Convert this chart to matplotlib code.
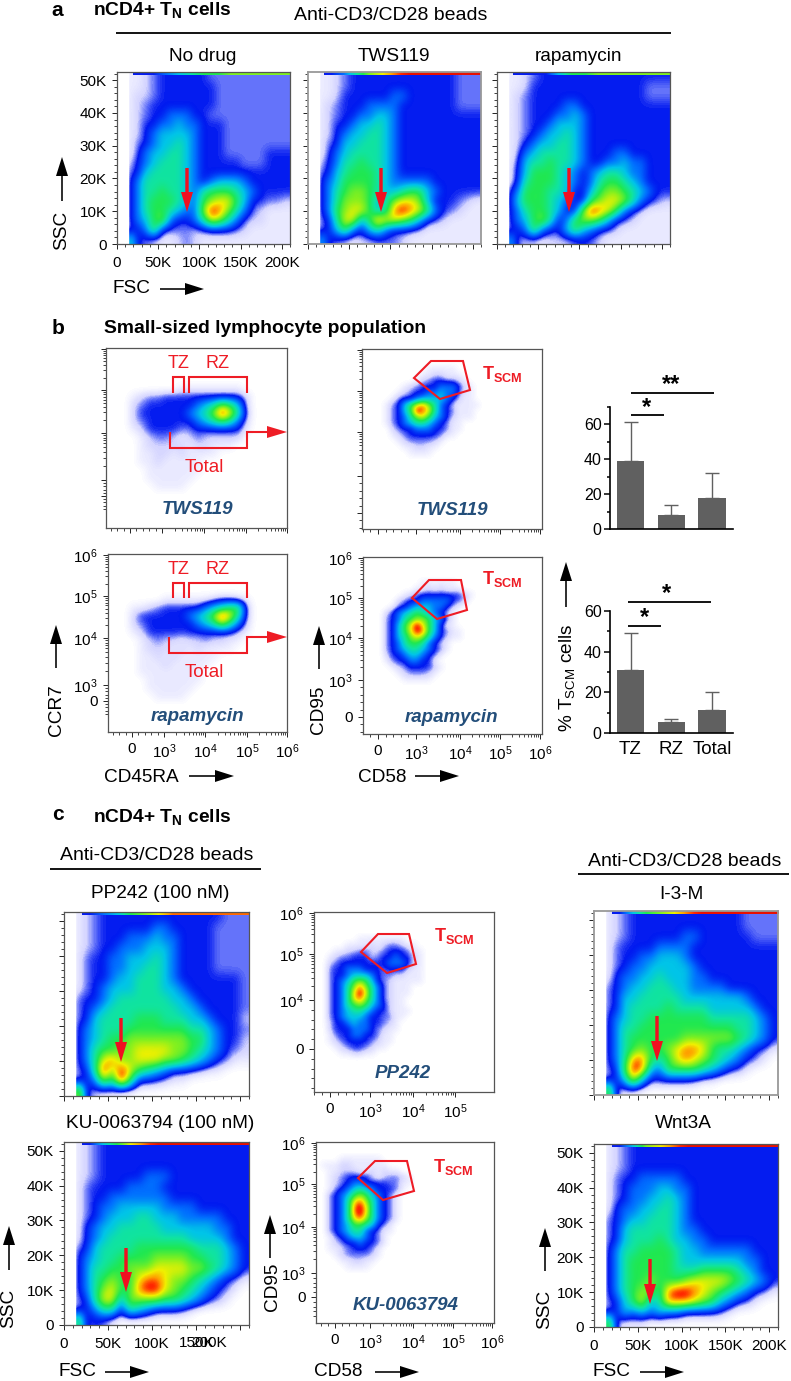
import matplotlib
matplotlib.use("Agg")
import matplotlib.pyplot as plt
import numpy as np
from matplotlib.colors import LinearSegmentedColormap
from matplotlib.patches import Polygon

W, H = 791, 1381
DARK = "#222222"
NAVY = "#234e7a"

# density grids, one character per cell, top row first
# 0-9 = colour level, "," "." "-" = sparse events (levels 0.25, 0.5, 0.75)
# FSC/SSC grids: 21 columns of 10K FSC, 18 rows over 0-52.5K SSC
NO_DRUG = [
    "0,,.-111111----------", "0,,.-1111111---------", "0,..-1111111---------",
    "0,.-11111111---------", "0,.-1122211----------", "0,.1122322111--------",
    "0,.1233332111--------", "0,-1233432111--------", "0,-2334432111-----111",
    "0.1234443211111---111", "0-1344443211111111111", "0-2444443212333211111",
    "0-2445443245554321111", "0-2455543256775311--.", "0-24554322698642-.,,,",
    "0-2356211247642-..,,,", "0-1251---.-111-.,,,,,", "041-.,,.-.,,,,,,,,,,,",
]
TWS119 = [
    "0,,.-1111111111111---", "0,,.-1111111111111---", "0,,.11111122111111---",
    "0,.-11122221111111---", "0,.-11223321111111111", "0,.112334321111111111",
    "0,.123344321111111111", "0,-133444321111111111", "0,-234444321111111111",
    "0.1244544321111111111", "0-1345554321111111111", "0-2355554322222111111",
    "0-2456654334553211111", "0-2466653467763111-.,", "0-256775348987521-.,,",
    "0-1477358776531-.,,,,", "0-1352134211-.,,,,,,,", "031-.,..---.,,,,,,,,,",
]
RAPAMYCIN = [
    "0,,.-1111111111111111", "0,,.11111111111111---", "0,.-11111111111111---",
    "0,.-11112211111111111", "0,.-11122321111111111", "0,.-11233321111111111",
    "0,.-12334321111111111", "0,.123344321111111111", "0,.234444321112211111",
    "0,-344544321122322111", "0,1355543212344322111", "0,1455543212455432111",
    "0-2555443113566543211", "0-355543211567764 21-.".replace(" ", ""), "0-245543116987521.,,,",
    "0-2356412566531-.,,,,", "0-12521135321-.,,,,,,", "03-..,...-1-.,,,,,,,,",
]
PP242 = [
    "0,.-11111111111111---", "0,.-1111112211111----", "0,.-1112223221111----",
    "0,.-1122233321111----", "0,-11223334321111----", "0,-11223344321111----",
    "0,-11233444321111111-", "0,-12333444332111111-", "0-112344444433211111-",
    "0-123444444443321111-", "0-134444555444332111.", "0-234445555555443211-",
    "0-234556666666553211.", "0-24556677776654321-.", "0-2478667776654321-,,",
    "0-149697543211-.,,000", "0-12649511-.,,0000000", "081.,,000000000000000",
]
KU0063794 = [
    "0,.-11111111111111111", "0,.-11111111111111111", "0,.-11111111111111111",
    "0,.-11111222111111111", "0,-111122221111111111", "0,-112222222111111111",
    "0,-122333332222111111", "0,-123334433322222111", "0,1233444443333332211",
    "0,1234444444443333211", "0-1344445555555444321", "0-2344555566665544321",
    "0-2445566677776654321", "0-24565578876654321-,", "0-2467558997654321-,0",
    "0-147736666554321-,00", "0-12441432111-,000000", "06-1-,000000000000000",
]
I3M = [
    "0,.-1111111111111----", "0,.-1111111111111----", "0,.-11111122111111---",
    "0,-111122221111111111", "0,-112233321111111111", "0,-122333332111111111",
    "0,1223343332211111111", "0-1233444332222111111", "0-1334444433333332111",
    "0-1344445444433333211", "0-2344555555544444321", "0-2445555555555544321",
    "0-2455555566666654321", "0-24565567887544321-,", "0-2488545787654321-,0",
    "0-15983255554321-,000", "0-1373-1111-,,0000000", "07-,,0000000000000000",
]
WNT3A = [
    "0,.-11111111111111111", "0,.-11111111111111111", "0,.-11111111111111111",
    "0,-112222211111111111", "0,-122233221111111111", "0,-122334321111111111",
    "0,1223344321111111111", "0-1233444321111111111", "0-1344444322111111111",
    "0-1344454332211111111", "0-2445555433222222111", "0-2455555433333332211",
    "0-2455555444555543211", "0-2455655567777654321", "0-2456648998765 4321-,".replace(" ", ""),
    "0-135734888765321-,00", "0-132323221111-,00000", "07-,,,000000000000000",
]

# colour levels of the saturated strip along the top edge of each FSC/SSC plot
TOP_NO_DRUG = [1, 1, 2, 3, 4, 5, 5, 6, 6, 6, 6, 6]
TOP_TWS119 = [1, 2, 4, 6, 7, 8, 9, 9, 9, 9, 9, 9]
TOP_RAPAMYCIN = [1, 1, 1, 3, 5, 5, 6, 6, 6, 6, 6, 6]
TOP_PP242 = [1, 2, 3, 5, 6, 7, 8, 8, 8, 8, 8, 8]
TOP_KU = [1, 3, 5, 7, 8, 9, 9, 9, 9, 9, 9, 9]
TOP_I3M = [1, 3, 5, 6, 7, 8, 9, 9, 9, 9, 9, 9]
TOP_WNT3A = [1, 3, 6, 7, 8, 9, 9, 9, 9, 9, 9, 9]

# CD45RA/CCR7 grids, 15 columns
CCR7_TWS119 = [
    "000000,,,,,,,,0", ",.--1111111111.", ".-111111234653.", ".1111112346974-",
    ".-111111234542.", ",.1111--111111,", "0,.--.,.-.....0", "0,.....,..,,,00",
    "0,,..,.,,,,0000", "0,,.,,,,,000000", "00,,,,,,,000000", "00,,,,,,0000000",
    "000,,,,00000000",
]
CCR7_RAPAMYCIN = [
    "0000,,,,,,.--.,", ",,.-1111123455-", ".1111112346974-", ".-111111234642.",
    ",.11111111111.,", "0,.-..,..-..,,0", "0,...,.,.,,,,00", "0,,.,.,,,,,0000",
    "0,,,.,,,,,00000", "0,,,,,,,,000000", "00,,,,,,,000000", "00,,,,,,0000000",
    "000,,,,00000000",
]

# CD58/CD95 grids, 16 columns
CD58_TWS119 = [
    "0000000,,,,,0000", "000000,,..,,,000", "00000,.-11--.,00", "000,.-1112221.,0",
    "00,.-1122322-,,0", "0,-112333321.,,0", ",-135786421.,,,,", ",-135987421-,,,0",
    ",-124675321.,,,0", ",-12344321-,,000", "0.-1122211-,,000", "0,.-11111-,,0000",
    "00,.----.,000000", "000,,..,,0000000", "0000,,,,00000000",
]
CD58_RAPAMYCIN = [
    "000000,,,,,,0000", "00000,,.,.,,,000", "000,.-1111111.,0", "00.-11222221-.00",
    "0,-12333221.,000", ".123454321.,0000", "-124566532-,0000", "-135797531,,0000",
    "-135798531-,,000", "-134676421.,,000", "-12455421.,00000", "-12344321-,00000",
    ".1123321-,000000", ",-112211,0000000", "0,.-1111.,000000", "00,.---.,0000000",
    "000,,,,,00000000",
]
CD58_PP242 = [
    "00000,,,,,,,,000", "000,,,,.,.--.,,0", "0,,..--..-111-,,", ",.--111.-11211.,",
    ".-111111112221.,", "-11222111-111.,,", "-11233321--..,,,", "-12356531-.,,,,,",
    "-12468642-.,,,00", "-12479742-.,,,00", "-12478642-.,,000", "-124565321.,,000",
    "-123443211.,,,00", "-12333211--,,000", ".11232211-.,0000", ".1112221-.,,0000",
    ",-112211-,,00000", ",.-1111-.,,00000", "0,.-11-.,,000000", "00,,..,,00000000",
]
CD58_KU = [
    "000,,,,,,,000000", ",,,..,,,,,,00000", "0,,...,,.,.,,000", "0,.-1111.,.--.,0",
    "0,.-1221111--,,0", "0,-123432111-,00", "0-123565321-,000", "0-124786421-,000",
    "0-124897421-,000", "0-124897421-,000", "0-124786421-,000", "0-12355431-,0000",
    "0-1234421-,,0000", "0,-123321-,00000", "0,.-11211-,00000", "0,,.-111-,000000",
    "00,.----.,000000", "000,,..,,0000000", "0000,,,,00000000",
]

# bar charts, % TSCM cells
GROUPS = ["TZ", "RZ", "Total"]
TWS119_MEAN = [39, 8, 17.5]
TWS119_SD = [22.5, 6, 14.5]
RAPAMYCIN_MEAN = [31, 5.5, 11.5]
RAPAMYCIN_SD = [18, 1.5, 8.5]

FSC_TICKS = [0, 50, 100, 150, 200]
FSC_LABELS = ["0", "50K", "100K", "150K", "200K"]
SSC_TICKS = [0, 10, 20, 30, 40, 50]
SSC_LABELS = ["0", "10K", "20K", "30K", "40K", "50K"]
BIEX_LABELS = ["0", r"$\mathregular{10^3}$", r"$\mathregular{10^4}$",
               r"$\mathregular{10^5}$", r"$\mathregular{10^6}$"]

LEVELS = [0, 0.5, 0.75, 1, 2, 3, 4, 5, 6, 7, 7.7, 8.4, 9]
COLOURS = ["#ffffff", "#d4d4ff", "#6070fa", "#0018f0", "#0070ff", "#00c4e8", "#10e4a0",
           "#20e850", "#80f020", "#f0f000", "#ffa000", "#ff2800", "#e81000"]
DENSITY = LinearSegmentedColormap.from_list("density", [(v / 9, c) for v, c in zip(LEVELS, COLOURS)])
SPARSE = {",": 0.25, ".": 0.5, "-": 0.75}


def parse_grid(rows):
    width = max(len(r) for r in rows)
    return np.array([[SPARSE[c] if c in SPARSE else float(c) for c in r.ljust(width, "0")] for r in rows])


def px_axes(fig, x0, y0, x1, y1):
    return fig.add_axes([x0 / W, 1 - y1 / H, (x1 - x0) / W, (y1 - y0) / H])


def style_box(ax, edge="#555555", lw=0.9):
    for spine in ax.spines.values():
        spine.set_color(edge)
        spine.set_linewidth(lw)
    ax.tick_params(which="major", length=3.8, width=0.7, color=DARK, labelsize=11, pad=3.5)
    ax.tick_params(which="minor", length=2.2, width=0.6, color=DARK)


def fsc_panel(fig, box, grid, top, labels_x=False, labels_y=False, edge="#555555", lw=0.9):
    ax = px_axes(fig, *box)
    ax.imshow(parse_grid(grid), extent=(0, 210, 0, 52.5), origin="upper", cmap=DENSITY, vmin=0, vmax=9,
              interpolation="bicubic", interpolation_stage="data", aspect="auto")
    ax.imshow([top], extent=(20, 210, 51.6, 52.5), origin="upper", cmap=DENSITY, vmin=0, vmax=9,
              interpolation="bilinear", aspect="auto")
    ax.axvspan(0, 13, color="white", zorder=2)
    ax.set_xlim(0, 210)
    ax.set_ylim(0, 52.5)
    ax.set_xticks(FSC_TICKS, FSC_LABELS if labels_x else [""] * 5)
    ax.set_yticks(SSC_TICKS, SSC_LABELS if labels_y else [""] * 6)
    ax.set_xticks(np.arange(0, 211, 10), minor=True)
    ax.set_yticks(np.arange(0, 52.5, 2), minor=True)
    style_box(ax, edge, lw)
    ax.tick_params(axis="x", pad=5)
    return ax


def biex_minors(ticks, lim):
    # ticks are the pixel positions of 0, 10^3, 10^4, 10^5, 10^6
    out = [ticks[0] + k * (ticks[1] - ticks[0]) / 5 for k in range(-4, 6)]
    for a, b in zip(ticks[1:], ticks[2:]):
        out += [a + np.log10(k) * (b - a) for k in range(2, 10)]
    lo, hi = min(lim), max(lim)
    return [p for p in out if lo <= p <= hi]


def biex_panel(fig, box, grid, extent, xticks, yticks, xlabels=None, ylabels=None):
    ax = px_axes(fig, *box)
    cells = parse_grid(grid)
    # one empty cell all round, so the density fades out before the image edge
    dx = (extent[1] - extent[0]) / cells.shape[1]
    dy = (extent[2] - extent[3]) / cells.shape[0]
    ax.imshow(np.pad(cells, 1), extent=(extent[0] - dx, extent[1] + dx, extent[2] + dy, extent[3] - dy),
              origin="upper", cmap=DENSITY, vmin=0, vmax=9,
              interpolation="bicubic", interpolation_stage="data", aspect="auto")
    ax.set_xlim(box[0], box[2])
    ax.set_ylim(box[3], box[1])
    ax.set_xticks(xticks, xlabels if xlabels else [""] * len(xticks))
    ax.set_yticks(yticks, ylabels if ylabels else [""] * len(yticks))
    ax.set_xticks(biex_minors(xticks, (box[0], box[2])), minor=True)
    ax.set_yticks(biex_minors(yticks, (box[1], box[3])), minor=True)
    style_box(ax)
    return ax


def bar_panel(fig, box, means, sds, ymax, major, minor, labels=None):
    ax = px_axes(fig, *box)
    x = np.arange(len(means))
    ax.bar(x, means, width=0.675, color="#606060")
    ax.errorbar(x, means, yerr=[np.zeros(len(sds)), sds], fmt="none", ecolor="#606060", elinewidth=1,
                capsize=4.7, capthick=1)
    ax.set_xlim(-0.503, 2.515)
    ax.set_ylim(0, ymax)
    ax.set_yticks(major)
    ax.set_yticks(minor, minor=True)
    if labels:
        ax.set_xticks(x, labels)
        ax.tick_params(axis="x", length=0, labelsize=13.5, pad=6)
    else:
        ax.set_xticks([])
    ax.tick_params(axis="y", which="major", length=4, width=1.1, labelsize=11.5, pad=2)
    ax.tick_params(axis="y", which="minor", length=2.5, width=1.1)
    ax.spines[["top", "right"]].set_visible(False)
    ax.spines[["left", "bottom"]].set_linewidth(1.2)
    return ax


def main():
    plt.rcParams["font.family"] = ["Liberation Sans", "DejaVu Sans"]
    plt.rcParams["mathtext.fontset"] = "custom"
    plt.rcParams["mathtext.rm"] = "Liberation Sans"
    plt.rcParams["mathtext.bf"] = "Liberation Sans:bold"
    plt.rcParams["mathtext.it"] = "Liberation Sans:italic"

    fig = plt.figure(figsize=(W / 100, H / 100), dpi=100)

    # panel a
    fsc_panel(fig, (117, 72, 290, 244), NO_DRUG, TOP_NO_DRUG, labels_x=True, labels_y=True)
    fsc_panel(fig, (308, 72, 481, 244), TWS119, TOP_TWS119, edge="#999999", lw=1.3)
    fsc_panel(fig, (497, 72, 670, 244), RAPAMYCIN, TOP_RAPAMYCIN)

    # panel b, dot plots
    biex_panel(fig, (106, 348, 287, 528), CCR7_TWS119, (130, 250, 490, 386),
               [130, 162, 204, 246, 287], [496, 480, 433, 390, 349])
    biex_panel(fig, (108, 554, 287, 732), CCR7_RAPAMYCIN, (130, 250, 700, 596),
               [132, 164, 205, 247, 287], [701, 685, 638, 596, 555], BIEX_LABELS, BIEX_LABELS)
    biex_panel(fig, (362, 349, 542, 529), CD58_TWS119, (384, 480, 456, 366),
               [378, 416, 460, 500, 540], [513, 476, 432, 391, 350])
    biex_panel(fig, (363, 557, 542, 734), CD58_RAPAMYCIN, (384, 480, 682, 580),
               [378, 416, 460, 500, 540], [717, 680, 638, 598, 558], BIEX_LABELS, BIEX_LABELS)

    # panel b, bars
    bar_panel(fig, (610, 407, 733, 529), TWS119_MEAN, TWS119_SD, 70, [0, 20, 40, 60], [10, 30, 50, 70])
    bar_panel(fig, (610, 611, 733, 733), RAPAMYCIN_MEAN, RAPAMYCIN_SD, 60, [0, 20, 40, 60], [10, 30, 50], GROUPS)

    # panel c
    fsc_panel(fig, (64, 912, 249, 1096), PP242, TOP_PP242)
    ax = fsc_panel(fig, (64, 1142, 249, 1325), KU0063794, TOP_KU, labels_y=True)
    ax.set_xticks(FSC_TICKS, ["0", "50K", "100K", "", ""])
    fsc_panel(fig, (594, 911, 778, 1095), I3M, TOP_I3M, edge="#999999", lw=1.3)
    fsc_panel(fig, (594, 1144, 778, 1327), WNT3A, TOP_WNT3A, labels_x=True, labels_y=True)
    biex_panel(fig, (314, 912, 494, 1092), CD58_PP242, (327, 423, 1056, 936),
               [330, 370, 413, 455], [1049, 1000, 954, 913], BIEX_LABELS[:4], BIEX_LABELS[:1] + BIEX_LABELS[2:])
    biex_panel(fig, (316, 1142, 494, 1323), CD58_KU, (321, 417, 1270, 1156),
               [335, 370, 413, 453, 492], [1297, 1273, 1227, 1184, 1143], BIEX_LABELS, BIEX_LABELS)

    # everything else sits on one overlay in image pixels
    ov = fig.add_axes([0, 0, 1, 1], zorder=10)
    ov.set_xlim(0, W)
    ov.set_ylim(H, 0)
    ov.axis("off")

    def text(x, y, s, size=13.7, ha="center", **kw):
        ov.text(x, y, s, fontsize=size, ha=ha, va="center", **kw)

    def rule(x0, x1, y, lw=1.3):
        ov.plot([x0, x1], [y, y], color="black", lw=lw, solid_capstyle="butt")

    def black_arrow(x0, y0, x1, y1):
        ov.arrow(x0, y0, x1 - x0, y1 - y0, width=1.6, head_width=12, head_length=19,
                 length_includes_head=True, color="black", lw=0)

    def red_arrow(x, y0, y1):
        ov.arrow(x, y0, 0, y1 - y0, width=3.4, head_width=12, head_length=20,
                 length_includes_head=True, color="#f01020", lw=0)

    def gate(points, closed=False, lw=1.5):
        ov.add_patch(Polygon(points, closed=closed, fill=False, edgecolor="#ee1c25", lw=lw, joinstyle="miter"))

    def tz_rz(top, stem, total_y, total_stem, left):
        gate([(173, stem), (173, top), (184, top), (184, stem)])
        gate([(189, stem), (189, top), (247, top), (247, stem)])
        gate([(left, total_stem), (left, total_y), (247, total_y), (247, total_stem), (268, total_stem)])
        ov.arrow(267, total_stem, 20, 0, width=0.1, head_width=12, head_length=20,
                 length_includes_head=True, color="#ee1c25", lw=0)
        text(179, top - 14, "TZ", 13, color="#ee1c25")
        text(218, top - 14, "RZ", 13, color="#ee1c25")
        text(204, total_y + 19, "Total", 13.5, color="#ee1c25")

    def tscm(x, y):
        text(x, y, r"$\mathbf{T_{SCM}}$", 13, ha="left", color="#ee1c25")

    for x, y, s in [(57, 10, "a"), (58, 328, "b"), (58, 814, "c")]:
        text(x, y, s, 15, fontweight="bold")
    text(93, 10, r"nCD4+ $\mathbf{T_N}$ cells", 13.9, ha="left", fontweight="bold")
    text(93, 817, r"nCD4+ $\mathbf{T_N}$ cells", 13.9, ha="left", fontweight="bold")
    text(104, 328, "Small-sized lymphocyte population", 13.9, ha="left", fontweight="bold")

    text(391, 15, "Anti-CD3/CD28 beads", 14)
    rule(116, 671, 33)
    text(203, 56, "No drug")
    text(394, 56, "TWS119")
    text(579, 56, "rapamycin")
    text(157, 855, "Anti-CD3/CD28 beads", 14)
    rule(50, 261, 869)
    text(160, 893, "PP242 (100 nM)")
    text(160, 1123, "KU-0063794 (100 nM)")
    text(685, 861, "Anti-CD3/CD28 beads", 14)
    rule(578, 789, 874)
    text(681, 894, "I-3-M")
    text(683, 1124, "Wnt3A")

    # axis names with their arrows
    text(62, 230, "SSC", rotation=90)
    black_arrow(62, 201, 62, 157)
    text(131, 288, "FSC")
    black_arrow(160, 289, 204, 289)
    text(56, 710, "CCR7", rotation=90)
    black_arrow(56, 668, 56, 625)
    text(141, 777, "CD45RA")
    black_arrow(189, 776, 234, 776)
    text(319, 710, "CD95", rotation=90)
    black_arrow(319, 669, 319, 626)
    text(382, 777, "CD58")
    black_arrow(415, 776, 459, 776)
    text(567, 678, r"% T$\mathregular{_{SCM}}$ cells", rotation=90)
    black_arrow(566, 607, 566, 562)
    text(9, 1308, "SSC", rotation=90)
    black_arrow(9, 1270, 9, 1226)
    text(77, 1372, "FSC")
    black_arrow(105, 1372, 149, 1372)
    text(272, 1287, "CD95", rotation=90)
    black_arrow(270, 1258, 270, 1215)
    text(338, 1372, "CD58")
    black_arrow(375, 1372, 419, 1372)
    text(545, 1309, "SSC", rotation=90)
    black_arrow(545, 1271, 545, 1228)
    text(612, 1372, "FSC")
    black_arrow(640, 1372, 684, 1372)

    # the overlapped 150K / 200K labels of the KU-0063794 plot
    text(197, 1343, "150K", 11)
    text(209, 1343, "200K", 11)

    for x, y0, y1 in [(187, 168, 212), (381, 168, 212), (569, 168, 212), (121, 1018, 1062),
                      (126, 1248, 1292), (657, 1016, 1061), (650, 1259, 1304)]:
        red_arrow(x, y0, y1)

    tz_rz(377, 393, 448, 432, 170)
    tz_rz(583, 598, 653, 637, 169)
    gate([(414, 378), (431, 361), (463, 361), (470, 390), (440, 399)], closed=True)
    gate([(412, 598), (429, 580), (461, 580), (467, 610), (437, 619)], closed=True)
    gate([(361, 952), (378, 934), (409, 934), (416, 964), (387, 973)], closed=True)
    gate([(358, 1178), (375, 1161), (407, 1161), (414, 1191), (383, 1200)], closed=True)
    tscm(482, 374)
    tscm(482, 579)
    tscm(434, 936)
    tscm(433, 1167)

    for x, y, s in [(197, 509, "TWS119"), (452, 510, "TWS119"), (197, 716, "rapamycin"), (451, 717, "rapamycin"),
                    (403, 1074, "PP242"), (406, 1305, "KU-0063794")]:
        text(x, y, s, 13.5, fontweight="bold", fontstyle="italic", color=NAVY)

    # significance marks
    rule(631, 714, 393)
    rule(631, 664, 415)
    rule(628, 711, 602)
    rule(628, 661, 626)
    for x, y, s in [(671, 385, "**"), (647, 408, "*"), (667, 594, "*"), (644, 618, "*")]:
        text(x, y, s, 17, fontweight="bold")

    fig.savefig("out.png", dpi=100)


if __name__ == "__main__":
    main()
